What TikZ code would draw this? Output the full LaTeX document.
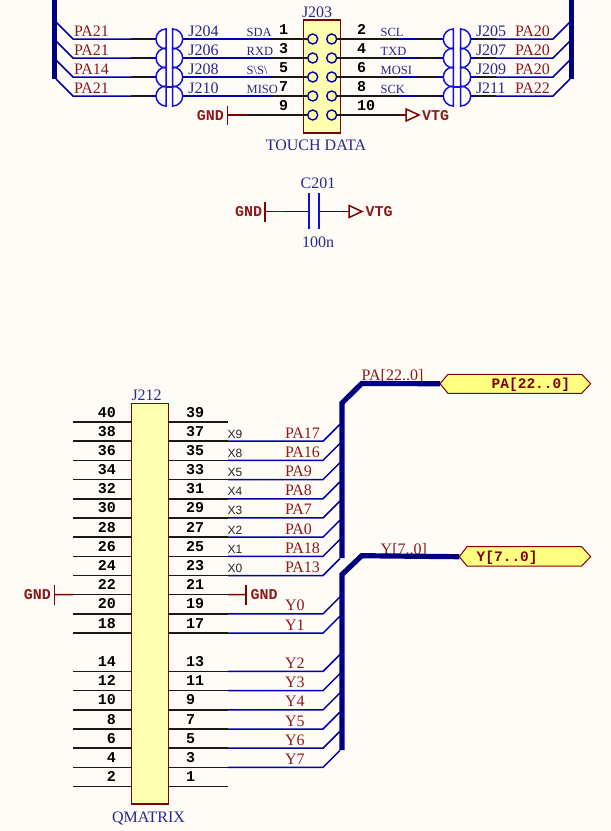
\documentclass[tikz,border=0pt]{standalone}
\usepackage{fontspec}
\setmainfont{Liberation Serif}
\setsansfont{Liberation Sans}
\newfontfamily\monob{Liberation Mono}
\definecolor{bgc}{HTML}{FFFCF8}
\definecolor{wireb}{HTML}{0000A8}
\definecolor{busb}{HTML}{000080}
\definecolor{jumpb}{HTML}{1010E0}
\definecolor{dred}{HTML}{800000}
\definecolor{netr}{HTML}{8B1A1A}
\definecolor{lblb}{HTML}{28288C}
\definecolor{boxy}{HTML}{FFFFB0}
\definecolor{flagy}{HTML}{FFFF80}
\tikzset{
  txt/.style={inner sep=0pt,outer sep=0pt,anchor=base west},
  pinnum/.style={txt,text=black,font=\monob\bfseries\fontsize{15}{15}\selectfont},
  pinnumr/.style={pinnum,anchor=base east},
  netlbl/.style={txt,text=netr,font=\fontsize{16}{16}\selectfont},
  deslbl/.style={txt,text=lblb,font=\fontsize{16}{16}\selectfont},
  siglbl/.style={txt,text=lblb,font=\fontsize{12.5}{12.5}\selectfont},
  xlbl/.style={txt,text=black!85,font=\sffamily\fontsize{12}{12}\selectfont},
  pwr/.style={txt,text=netr,font=\monob\bfseries\fontsize{15}{15}\selectfont},
  flagtxt/.style={txt,text=dred,font=\monob\bfseries\fontsize{14.5}{14.5}\selectfont},
  pincirc/.style={circle,draw=wireb,line width=1.4pt,minimum size=10pt,inner sep=0pt},
  wire/.style={line width=1.5pt,color=wireb},
  bwire/.style={line width=1.5pt,color=black!90},
  rwire/.style={line width=1.5pt,color=dred},
  bus/.style={line width=5.2pt,color=busb},
  jump/.style={line width=1.5pt,color=jumpb},
  plate/.style={line width=1.7pt,color=jumpb},
  hdrbox/.style={draw=dred,fill=boxy,line width=1.3pt},
  flag/.style={draw=dred,fill=flagy,line width=1pt},
}
\begin{document}
\begin{tikzpicture}[x=1pt,y=-1pt]
\useasboundingbox[fill=bgc] (0,0) rectangle (611,831);

% --- J203 header ---
\draw[bus] (54.5,0) coordinate (bl0) -- (54.5,79) coordinate (bl1);
\draw[bus] (571.5,0) coordinate (br0) -- (571.5,79) coordinate (br1);
\draw[hdrbox] (303.5,20) rectangle (340.5,133);
\node[deslbl] (j203) at (302,17) {J203};
\node[deslbl,anchor=base] (touch) at (316,150) {TOUCH DATA};

\foreach \n/\y in {1/39,2/58,3/77,4/96,5/115}{
  \node[pincirc] (pl\n) at (312.7,\y) {};
  \node[pincirc] (pr\n) at (331.7,\y) {};
}

% left group
\foreach \n/\y/\net/\jn/\sig/\pin in {1/39/PA21/J204/SDA/1,2/58/PA21/J206/RXD/3,3/77/PA14/J208/S\textbackslash S\textbackslash/5,4/96/PA21/J210/MISO/7}{
  \coordinate (la\n) at (56,\y-17);
  \coordinate (lb\n) at (73,\y);
  \coordinate (lc\n) at (131,\y);
  \coordinate (ld\n) at (151,\y);
  \coordinate (le\n) at (156,\y);
  \coordinate (lf\n) at (182.7,\y);
  \coordinate (lg\n) at (272,\y);
  \draw[wire] (la\n) -- (lb\n) -- (lc\n);
  \draw[bwire] (lc\n) -- (ld\n);
  \draw[wire] (ld\n) -- (le\n);
  \draw[wire] (lf\n) -- (lg\n);
  \draw[bwire] (lg\n) -- (pl\n);
  \draw[jump] (166,\y+10) arc[start angle=90,end angle=270,radius=10] -- cycle;
  \draw[jump] (172.7,\y+10) arc[start angle=90,end angle=-90,radius=10] -- cycle;
  \node[netlbl] (ln\n) at (74,\y-3) {\net};
  \node[deslbl] (lj\n) at (188.3,\y-3) {\jn};
  \node[siglbl] (ls\n) at (246.7,\y-3) {\sig};
  \node[pinnumr] (lp\n) at (288,\y-5) {\pin};
}
\coordinate (llink1) at (166,87); \coordinate (llink2) at (172.7,87);
\draw[jump] (llink1) -- (llink2);

% right group
\foreach \n/\y/\net/\jn/\sig/\pin in {1/39/PA20/J205/SCL/2,2/58/PA20/J207/TXD/4,3/77/PA20/J209/MOSI/6,4/96/PA22/J211/SCK/8}{
  \coordinate (ra\n) at (570,\y-17);
  \coordinate (rb\n) at (553,\y);
  \coordinate (rc\n) at (496,\y);
  \coordinate (rd\n) at (476,\y);
  \coordinate (re\n) at (470,\y);
  \coordinate (rf\n) at (443.5,\y);
  \coordinate (rg\n) at (438,\y);
  \coordinate (rh\n) at (418,\y);
  \coordinate (ri\n) at (400,\y);
  \draw[wire] (ra\n) -- (rb\n) -- (rc\n);
  \draw[bwire] (rc\n) -- (rd\n);
  \draw[wire] (rd\n) -- (re\n);
  \draw[wire] (rf\n) -- (rg\n);
  \draw[bwire] (rg\n) -- (rh\n);
  \draw[wire] (rh\n) -- (ri\n);
  \draw[bwire] (ri\n) -- (pr\n);
  \draw[jump] (453.3,\y+10) arc[start angle=90,end angle=270,radius=10] -- cycle;
  \draw[jump] (460.7,\y+10) arc[start angle=90,end angle=-90,radius=10] -- cycle;
  \node[netlbl] (rn\n) at (515,\y-3) {\net};
  \node[deslbl] (rj\n) at (476,\y-3) {\jn};
  \node[siglbl] (rs\n) at (380.7,\y-3) {\sig};
  \node[pinnum] (rp\n) at (357,\y-5) {\pin};
}
\coordinate (rlink1) at (453.3,87); \coordinate (rlink2) at (460.7,87);
\draw[jump] (rlink1) -- (rlink2);

% row 9/10
\node[pinnumr] (p9) at (288,110) {9};
\node[pinnum] (p10) at (357,110) {10};
\coordinate (g1) at (227.5,115); \coordinate (g2) at (247,115);
\draw[rwire] (227.5,105.5) coordinate (g1t) -- (227.5,124.5) coordinate (g1b);
\draw[rwire] (g1) -- (g2);
\draw[bwire] (g2) -- (pl5);
\node[pwr,anchor=base east] (gnd1) at (224,120) {GND};
\coordinate (v1) at (400,115); \coordinate (v2) at (406,115);
\draw[bwire] (pr5) -- (v1);
\draw[rwire] (v1) -- (v2);
\draw[rwire,fill=bgc] (v2) -- (406,109) -- (419,115) -- (406,121) -- cycle;
\node[pwr] (vtg1) at (422,120) {VTG};

% --- C201 ---
\node[deslbl,anchor=base] (c201) at (318,188) {C201};
\node[deslbl,anchor=base] (cval) at (318,247) {100n};
\node[pwr] (gnd2) at (235,216.5) {GND};
\draw[rwire] (265,201.5) coordinate (g3t) -- (265,221.5) coordinate (g3b);
\coordinate (c1) at (265,211.5); \coordinate (c2) at (285,211.5);
\coordinate (c3) at (309.3,211.5); \coordinate (c4) at (319,211.5);
\coordinate (c5) at (342,211.5); \coordinate (c6) at (349,211.5);
\draw[rwire] (c1) -- (c2);
\draw[bwire] (c2) -- (c3);
\draw[bwire] (c4) -- (c5);
\draw[rwire] (c5) -- (c6);
\draw[plate] (309.3,193) -- (309.3,229);
\draw[plate] (319,193) -- (319,229);
\draw[rwire,fill=bgc] (c6) -- (349,205.5) -- (362,211.5) -- (349,217.5) -- cycle;
\node[pwr] (vtg2) at (365.5,216.5) {VTG};

% --- J212 ---
\node[deslbl] (j212) at (131.5,400) {J212};
\node[deslbl,anchor=base] (qm) at (148.5,822) {QMATRIX};
\node[netlbl] (panet) at (361.7,380.7) {PA[22..0]};
\node[netlbl] (ynet) at (380.7,554) {Y[7..0]};

\foreach \k/\l/\r in {0/40/39,1/38/37,2/36/35,3/34/33,4/32/31,5/30/29,6/28/27,7/26/25,8/24/23,9/22/21,10/20/19,11/18/17,13/14/13,14/12/11,15/10/9,16/8/7,17/6/5,18/4/3,19/2/1}{
  \pgfmathsetmacro{\yy}{422+19.19*\k}
  \coordinate (jl\k) at (131.5,\yy);
  \coordinate (jr\k) at (168.5,\yy);
  \coordinate (jle\k) at (73,\yy);
  \coordinate (jre\k) at (228,\yy);
  \draw[bwire] (jle\k) -- (jl\k);
  \draw[bwire] (jr\k) -- (jre\k);
  \node[pinnumr] (nl\k) at (116,\yy-5) {\l};
  \node[pinnum] (nr\k) at (186,\yy-5) {\r};
}
\draw[hdrbox] (131.7,403.5) rectangle (168.3,804);

% X / PA nets
\foreach \k/\x/\net in {1/X9/PA17,2/X8/PA16,3/X5/PA9,4/X4/PA8,5/X3/PA7,6/X2/PA0,7/X1/PA18,8/X0/PA13}{
  \pgfmathsetmacro{\yy}{422+19.19*\k}
  \coordinate (dk\k) at (323,\yy);
  \coordinate (de\k) at (340,\yy-17);
  \draw[wire] (jre\k) -- (dk\k) -- (de\k);
  \node[xlbl] (xl\k) at (227.5,\yy-3) {\x};
  \node[netlbl] (xn\k) at (285,\yy-3) {\net};
}
% Y nets
\foreach \k/\net in {10/Y0,11/Y1,13/Y2,14/Y3,15/Y4,16/Y5,17/Y6,18/Y7}{
  \pgfmathsetmacro{\yy}{422+19.19*\k}
  \coordinate (dk\k) at (323,\yy);
  \coordinate (de\k) at (340,\yy-17);
  \draw[wire] (jre\k) -- (dk\k) -- (de\k);
  \node[netlbl] (xn\k) at (285,\yy-3) {\net};
}

% GND on row 9
\coordinate (gl) at (54.7,594.7); \coordinate (gr) at (246,594.7);
\draw[rwire] (54.7,584.5) coordinate (glt) -- (54.7,604.5) coordinate (glb);
\draw[rwire] (gl) -- (jle9);
\draw[rwire] (246,584.5) coordinate (grt) -- (246,604.5) coordinate (grb);
\draw[rwire] (jre9) -- (gr);
\node[pwr,anchor=base east] (gnd3) at (51,599.7) {GND};
\node[pwr] (gnd4) at (250.5,599.7) {GND};

% flags
\coordinate (pat) at (440,383.7);
\coordinate (yt) at (459.3,556.7);
\draw[bus,line join=miter] (342,558) -- (342,403) -- (361.7,383.5) -- (pat);
\draw[bus,line join=miter] (342,750) -- (342,574.5) -- (361.7,555.7) -- (yt);
\draw[flag] (pat) -- (448,374.3) -- (581.7,374.3) -- (590.7,383.7) -- (581.7,393.3) -- (448,393.3) -- cycle;
\draw[flag] (yt) -- (467,546.7) -- (581.7,546.7) -- (590.7,556.7) -- (581.7,566) -- (467,566) -- cycle;
\node[flagtxt] (patxt) at (491.7,388) {PA[22..0]};
\node[flagtxt] (ytxt) at (476.7,561) {Y[7..0]};
\end{tikzpicture}
\end{document}
